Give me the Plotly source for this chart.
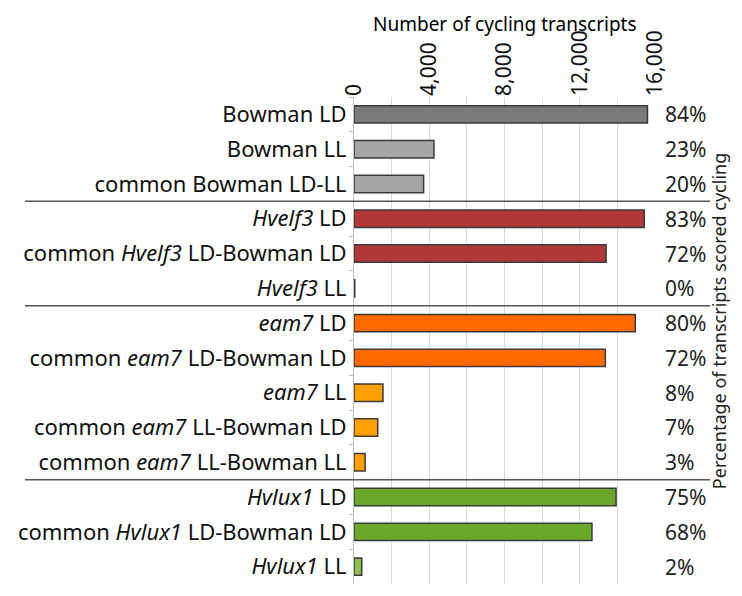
import plotly.graph_objects as go

# rows, top to bottom
labels = [
    "Bowman LD",
    "Bowman LL",
    "common Bowman LD-LL",
    "<i>Hvelf3</i> LD",
    "common <i>Hvelf3</i> LD-Bowman LD",
    "<i>Hvelf3</i> LL",
    "<i>eam7</i> LD",
    "common <i>eam7</i> LD-Bowman LD",
    "<i>eam7</i> LL",
    "common <i>eam7</i> LL-Bowman LD",
    "common <i>eam7</i> LL-Bowman LL",
    "<i>Hvlux1</i> LD",
    "common <i>Hvlux1</i> LD-Bowman LD",
    "<i>Hvlux1</i> LL",
]
counts = [15600, 4250, 3700, 15430, 13400, 40, 14950, 13360, 1540, 1260, 590, 13930, 12650, 410]
percents = ["84%", "23%", "20%", "83%", "72%", "0%", "80%", "72%", "8%", "7%", "3%", "75%", "68%", "2%"]
colors = ["#7a7a7a", "#a6a6a6", "#a6a6a6",
          "#b03838", "#b03838", "#b03838",
          "#ff6a00", "#ff6a00", "#ffa000", "#ffa000", "#ffa000",
          "#6aa829", "#6aa829", "#8dc050"]
group_breaks = [2.5, 5.5, 10.5]
x_ticks = [0, 2000, 4000, 6000, 8000, 10000, 12000, 14000, 16000]
x_ticktext = ["0", "", "4,000", "", "8,000", "", "12,000", "", "16,000"]

FONT = "Noto Sans"
rows = list(range(len(labels)))

fig = go.Figure(go.Bar(
    x=counts,
    y=rows,
    orientation="h",
    width=0.5,
    marker=dict(color=colors, line=dict(color="#3a3a3a", width=1.5)),
    hoverinfo="x",
))

# percentages on the right
for r, p in zip(rows, percents):
    fig.add_annotation(x=1.026, xref="paper", xanchor="left", y=r, yref="y",
                       text=p, showarrow=False, font=dict(size=21, color="#222"))

# group separators
for b in group_breaks:
    fig.add_shape(type="line", xref="paper", yref="y", x0=-1.093, x1=1.183, y0=b, y1=b,
                  line=dict(color="#555", width=1.5))

fig.add_annotation(text="Number of cycling transcripts", x=0.5, xref="paper",
                   xanchor="center", yanchor="middle",
                   y=1.15, yref="paper", showarrow=False, font=dict(size=19, color="#000"))
fig.add_annotation(text="Percentage of transcripts scored cycling", textangle=-90,
                   xanchor="center", yanchor="middle",
                   x=1.213, xref="paper", y=0.54, yref="paper", showarrow=False,
                   font=dict(size=18, color="#222"))

# page body has an 8px margin: shrink the figure so the page does not scroll
fig.update_layout(
    width=726, height=576,
    margin=dict(l=346, r=79, t=89, b=0, autoexpand=False),
    plot_bgcolor="white", paper_bgcolor="white",
    font=dict(family=FONT, color="#111"),
    showlegend=False,
    xaxis=dict(side="top", range=[0, 16000], tickvals=x_ticks, ticktext=x_ticktext,
               tickangle=-90, tickfont=dict(size=21), showgrid=True, gridcolor="#d9d9d9",
               zeroline=False, showline=False, ticks="", automargin=False),
    yaxis=dict(range=[13.5, -0.5], tickvals=rows, ticktext=labels, tickfont=dict(size=22),
               showgrid=False, zeroline=False, showline=True, linecolor="#c0c0c0",
               ticks="", ticklabelstandoff=2, automargin=False,
               minor=dict(tick0=0.5, dtick=1, ticks="outside", ticklen=4, tickcolor="#c0c0c0")),
)

fig.write_html("out.html")
